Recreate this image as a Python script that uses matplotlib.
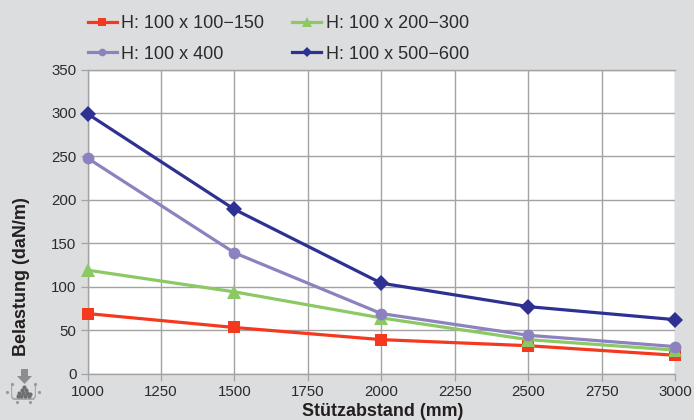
import matplotlib
matplotlib.use("Agg")
import matplotlib.pyplot as plt
from matplotlib.patches import Polygon

plt.rcParams['font.family'] = ['Liberation Sans', 'DejaVu Sans']

spacing = [1000, 1500, 2000, 2500, 3000]
s1 = [69, 53, 39, 32, 21]
s2 = [119, 94, 64, 39, 27]
s3 = [248, 139, 69, 44, 31]
s4 = [299, 189, 104, 77, 62]
xticks = [1000, 1250, 1500, 1750, 2000, 2250, 2500, 2750, 3000]
yticks = [0, 50, 100, 150, 200, 250, 300, 350]
labels = ['H: 100 x 100\u2212150', 'H: 100 x 200\u2212300', 'H: 100 x 400', 'H: 100 x 500\u2212600']
colors = ['#f4391f', '#8cc864', '#8d82c0', '#2e3192']
markers = ['s', '^', 'o', 'D']

W, H = 694, 420
fig = plt.figure(figsize=(W/100, H/100), dpi=100, facecolor='#dcddde')
L, R, T, B = 87.5, 675, 69.5, 373.5
ax = fig.add_axes([L/W, 1-B/H, (R-L)/W, (B-T)/H], facecolor='white')

handles = []
for vals, c, m, lab, ms in zip([s1, s2, s3, s4], colors, markers, labels, [8, 10, 8.5, 8]):
    h, = ax.plot(spacing, vals, color=c, marker=m, ms=ms, lw=2.3, label=lab,
                 clip_on=False, zorder=3, mew=0)
    handles.append(h)

ax.set_xlim(1000, 3000)
ax.set_ylim(0, 350)
ax.set_xticks(xticks)
ax.set_yticks(yticks)
ax.grid(True, color='#a3a3a3', lw=1.0)
ax.set_axisbelow(True)
for s in ax.spines.values():
    s.set_color('#a3a3a3')
    s.set_linewidth(1.0)
ax.spines['right'].set_visible(False)
ax.tick_params(colors='#a3a3a3', labelcolor='#2b2b2b', labelsize=10.8, length=5, width=0.9, pad=3)
fig.text(383/W, 1-411/H, 'St\u00fctzabstand (mm)', fontsize=12.9, fontweight='bold', color='#231f20',
         ha='center', va='center')
fig.text(22/W, 1-276.5/H, 'Belastung (daN/m)', fontsize=13, fontweight='bold', color='#231f20',
         ha='center', va='center', rotation=90)

leg = fig.legend([handles[0], handles[2], handles[1], handles[3]],
                 [labels[0], labels[2], labels[1], labels[3]],
                 ncol=2, loc='upper left', bbox_to_anchor=(88/W, 1-15.5/H),
                 frameon=False, fontsize=13, labelcolor='#2b2b2b',
                 handlelength=1.6, handletextpad=0.25, columnspacing=1.55,
                 labelspacing=0.73, borderpad=0, borderaxespad=0, markerscale=0.65)

g = '#8c8d8f'
def pt(x, y):
    return (x/W, 1-y/H)
fig.add_artist(Polygon([pt(21, 369), pt(28, 369), pt(28, 376), pt(32, 376), pt(24.5, 384), pt(17, 376), pt(21, 376)],
                       closed=True, color=g, transform=fig.transFigure, lw=0))
fig.add_artist(Polygon([pt(11, 384), pt(12.2, 384), pt(12.2, 396), pt(14, 398), pt(33, 398), pt(34.8, 396), pt(34.8, 384),
                        pt(36, 384), pt(36, 397), pt(34, 400), pt(13, 400), pt(11, 397)],
                       closed=True, color='#a9aaac', transform=fig.transFigure, lw=0))
for x, y in [(24, 387), (21.5, 390), (26.5, 390), (19, 393), (23, 393), (27, 393), (30, 394),
             (17.5, 395.5), (21, 395.5), (25, 395.5), (29, 396)]:
    fig.add_artist(plt.Line2D([x/W], [1-y/H], marker='o', ms=3, color='#6d6e70', mew=0, transform=fig.transFigure))
for x, y in [(12, 384), (35, 384), (7, 391.5), (39, 391.5), (17, 402), (30, 402)]:
    fig.add_artist(plt.Line2D([x/W], [1-y/H], marker='o', ms=2.3, color='#98999b', mew=0, transform=fig.transFigure))

fig.savefig('out.png', dpi=100, facecolor=fig.get_facecolor())
